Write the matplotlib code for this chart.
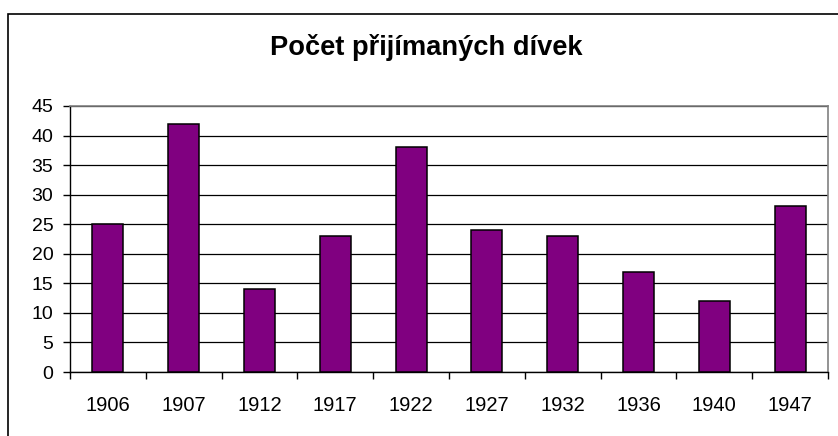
import matplotlib
matplotlib.use("Agg")
import matplotlib.pyplot as plt
from matplotlib.patches import Rectangle
import numpy as np

plt.rcParams['font.family'] = ['Liberation Sans', 'DejaVu Sans']

title = "Počet přijímaných dívek"
categories = ["1906", "1907", "1912", "1917", "1922", "1927", "1932", "1936", "1940", "1947"]
values = [25, 42, 14, 23, 38, 24, 23, 17, 12, 28]
yticks = [0, 5, 10, 15, 20, 25, 30, 35, 40, 45]

W, H = 838, 436
fig = plt.figure(figsize=(W / 100, H / 100), dpi=100)
fig.patch.set_facecolor('white')

# outer chart border (cut off at right and bottom)
fig.patches.append(Rectangle((8 / W, -0.05), 1.2, (H - 14) / H + 0.05,
                             transform=fig.transFigure, fill=False,
                             edgecolor='black', linewidth=1.2))

ax = fig.add_axes([70 / W, (H - 372) / H, (828 - 70) / W, (372 - 106) / H])
x = np.arange(len(categories))
ax.bar(x, values, width=0.41, color='#800080', edgecolor='black', linewidth=1.1, zorder=3)

ax.set_xlim(-0.5, len(categories) - 0.5)
ax.set_ylim(0, 45)
ax.set_yticks(yticks)
ax.set_yticklabels([str(v) for v in yticks], fontsize=14)
ax.set_xticks(x)
ax.set_xticklabels(categories, fontsize=14.5)
ax.set_xticks(np.arange(-0.5, len(categories)), minor=True)
ax.tick_params(axis='x', which='major', length=0, pad=17)
ax.tick_params(axis='x', which='minor', length=5, width=1, color='black', direction='out')
ax.tick_params(axis='y', length=5, width=1, pad=7, direction='out')
ax.yaxis.grid(True, color='black', linewidth=0.9, zorder=0)
ax.set_axisbelow(True)

for s in ['top', 'right']:
    ax.spines[s].set_color('#808080')
    ax.spines[s].set_linewidth(1.2)
for s in ['left', 'bottom']:
    ax.spines[s].set_color('black')
    ax.spines[s].set_linewidth(1.0)

fig.text(426 / W, (H - 55) / H, title, ha='center', va='baseline',
         fontsize=19.6, fontweight='bold')

fig.savefig("out.png", dpi=100)
